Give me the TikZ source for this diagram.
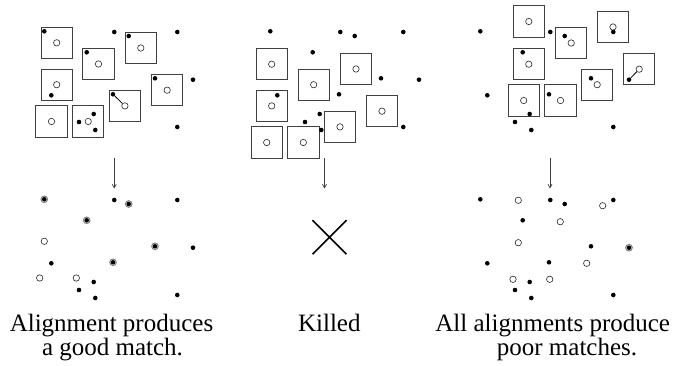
\documentclass[tikz,border=0pt]{standalone}
\usepackage{fontspec}
\setmainfont{Liberation Serif}
\usetikzlibrary{arrows.meta,shapes.misc}
\begin{document}
\begin{tikzpicture}[x=1pt,y=-1pt,
 box/.style={draw=black!75,line width=0.8pt,minimum size=31.3pt,inner sep=0pt,shape=rectangle},
 dot/.style={circle,fill=black,inner sep=0pt,minimum size=4.6pt},
 ocirc/.style={circle,draw=black!85,line width=0.6pt,inner sep=0pt,minimum size=6.4pt},
 cring/.style={circle,draw=black!50,line width=1pt,inner sep=0pt,minimum size=6.6pt},
 darrow/.style={draw=black!75,line width=0.7pt,-{Straight Barb[length=3.5pt,width=4pt]}},
 captxt/.style={font=\fontsize{25}{25}\selectfont,anchor=base,inner sep=0pt},
 link/.style={draw=black,line width=0.8pt},
]
\useasboundingbox (0,0) rectangle (673,366);

% ---------- squares with model circles ----------
\foreach [count=\i] \x/\y in {56.7/42.8, 98.5/64.0, 140.8/48.0, 56.7/84.7, 167.2/90.2, 124.9/105.9, 51.5/121.5, 88.2/121.5}{
  \node[box] (s1-\i) at (\x,\y) {};
  \node[ocirc] (c1-\i) at (\x,\y) {};
}
\foreach [count=\i] \x/\y in {271.7/64.2, 313.7/84.7, 356.0/69.0, 271.7/105.9, 382.0/111.2, 340.0/126.9, 266.7/142.5, 303.3/142.5}{
  \node[box] (s2-\i) at (\x,\y) {};
  \node[ocirc] (c2-\i) at (\x,\y) {};
}
\foreach [count=\i] \x/\y in {528.8/21.5, 571.2/43.0, 613.0/27.0, 528.8/64.2, 639.2/69.2, 597.2/84.7, 523.7/100.5, 560.5/100.5}{
  \node[box] (s3-\i) at (\x,\y) {};
  \node[ocirc] (c3-\i) at (\x,\y) {};
}

% ---------- image points (top row) ----------
\foreach \dx/\p in {0/1,226/2,436/3}{
  \foreach [count=\i] \x/\y in {44.3/31.3, 114.3/32, 128.7/36, 177.3/32, 86.7/52.3, 155/78.3, 193/79.7, 51.3/95.3, 113/94.3, 93.7/114, 79/122, 95.3/130, 177.3/127}{
    \node[dot] (d\p-\i) at (\x+\dx,\y) {};
  }
}
\draw[link] (d1-9) -- (c1-6);
\draw[link] (d3-7) -- (c3-5);

% ---------- arrows ----------
\coordinate (a1s) at (114.3,158.3); \coordinate (a1e) at (114.3,188.5);
\coordinate (a2s) at (324.5,158.3); \coordinate (a2e) at (324.5,188.5);
\coordinate (a3s) at (550.0,158.3); \coordinate (a3e) at (550.0,188.5);
\draw[darrow] (a1s) -- (a1e);
\draw[darrow] (a2s) -- (a2e);
\draw[darrow] (a3s) -- (a3e);

% ---------- bottom row ----------
\foreach \dx/\p in {0/1,436/3}{
  \foreach [count=\i] \x/\y in {44.3/31.3, 114.3/32, 128.7/36, 177.3/32, 86.7/52.3, 155/78.3, 193/79.7, 51.3/95.3, 113/94.3, 93.7/114, 79/122, 95.3/130, 177.3/127}{
    \node[dot] (b\p-\i) at (\x+\dx,\y+168) {};
  }
}
% matched model points (circled dots)
\foreach [count=\i] \x/\y in {44.3/199.3, 128.7/204.0, 86.7/220.3, 155.0/246.3, 113.0/262.3}{
  \node[cring] (m1-\i) at (\x,\y) {};
}
\node[cring] (m3-1) at (629.0,247.7) {};
% unmatched model points
\foreach [count=\i] \x/\y in {44.3/241.3, 39.7/278.0, 76.3/278.0}{
  \node[ocirc] (u1-\i) at (\x,\y) {};
}
\foreach [count=\i] \x/\y in {518.3/200.3, 602.7/205.7, 560.3/221.7, 518.3/242.7, 586.7/263.3, 513.0/279.3, 549.7/279.3}{
  \node[ocirc] (u3-\i) at (\x,\y) {};
}

% killed
\node[cross out,draw=black,line width=1.6pt,minimum size=32.4pt,inner sep=0pt] (kill) at (329.5,237.2) {};

% ---------- captions ----------
\node[captxt] (l1a) at (111.5,332) {Alignment produces};
\node[captxt] (l1b) at (112.5,356) {a good match.};
\node[captxt] (l2) at (329.3,332) {Killed};
\node[captxt] (l3a) at (552.7,332) {All alignments produce};
\node[captxt] (l3b) at (567.0,356) {poor matches.};
\end{tikzpicture}
\end{document}
